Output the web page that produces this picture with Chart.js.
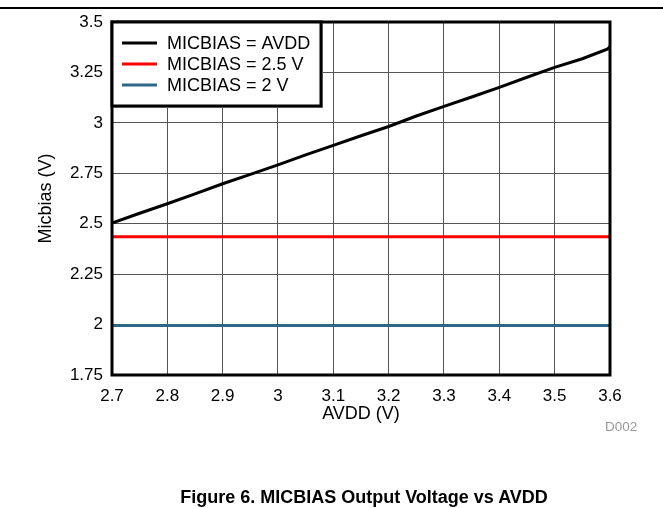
<!DOCTYPE html>
<html>
<head>
<meta charset="utf-8">
<script src="https://cdn.jsdelivr.net/npm/chart.js@4.4.1/dist/chart.umd.min.js"></script>
<style>
  body { margin: 0; background: #fff; font-family: "Liberation Sans", Arial, sans-serif; }
  #wrap { position: relative; width: 663px; height: 508px; }
  #chart { position: absolute; left: 0; top: 0; }
  #rule { position: absolute; left: 0; top: 7px; width: 663px; height: 2px; background: #000; }
  #code { position: absolute; left: 605px; top: 419px; font-size: 13.5px; color: #999; }
  #caption { position: absolute; left: 364px; top: 488px; transform: translateX(-50%);
             font-size: 18px; line-height: 18px; font-weight: bold; white-space: nowrap; }
</style>
</head>
<body>
<div id="wrap">
  <div id="rule"></div>
  <canvas id="chart" width="663" height="508"></canvas>
  <div id="code">D002</div>
  <div id="caption">Figure 6. MICBIAS Output Voltage vs AVDD</div>
</div>
<script>
// data
const avdd = [2.70, 2.75, 2.80, 2.85, 2.90, 2.95, 3.00, 3.05, 3.10, 3.15,
              3.20, 3.25, 3.30, 3.35, 3.40, 3.45, 3.50, 3.55, 3.595, 3.60];
const micbiasAvdd = [2.503, 2.552, 2.599, 2.648, 2.698, 2.745, 2.792, 2.841, 2.888, 2.936,
                     2.982, 3.034, 3.082, 3.128, 3.176, 3.226, 3.275, 3.318, 3.365, 3.378];
const avddEnds = [2.7, 3.6];
const micbias25 = [2.435, 2.435];
const micbias2 = [1.995, 1.995];

const seriesLabels = ['MICBIAS = AVDD', 'MICBIAS = 2.5 V', 'MICBIAS = 2 V'];
const seriesColors = ['#000000', '#ff0000', '#2f6886'];

const xTicks = [2.7, 2.8, 2.9, 3.0, 3.1, 3.2, 3.3, 3.4, 3.5, 3.6];
const xTickLabels = ['2.7', '2.8', '2.9', '3', '3.1', '3.2', '3.3', '3.4', '3.5', '3.6'];
const yTicks = [1.75, 2, 2.25, 2.5, 2.75, 3, 3.25, 3.5];
const yTickLabels = ['1.75', '2', '2.25', '2.5', '2.75', '3', '3.25', '3.5'];

const FONT = '"Liberation Sans", Arial, sans-serif';

function toPoints(xs, ys) {
  return xs.map((x, i) => ({ x: x, y: ys[i] }));
}

// frame + legend box drawn inside the plot
const frameAndLegend = {
  id: 'frameAndLegend',
  afterDatasetsDraw(chart) {
    const { ctx, chartArea: a } = chart;
    ctx.save();
    ctx.strokeStyle = '#000';
    ctx.lineWidth = 3;
    ctx.strokeRect(a.left, a.top, a.right - a.left, a.bottom - a.top);

    const x0 = a.left, y0 = a.top, w = 209, h = 84;
    ctx.fillStyle = '#aaa';
    ctx.fillRect(x0 + w, y0 + 2, 2, h);
    ctx.fillRect(x0 + 2, y0 + h, w, 2);
    ctx.fillStyle = '#fff';
    ctx.fillRect(x0, y0, w, h);
    ctx.strokeRect(x0, y0, w, h);

    ctx.font = '18px ' + FONT;
    ctx.textBaseline = 'middle';
    chart.data.datasets.forEach((ds, i) => {
      const y = y0 + 21 + i * 21;
      ctx.strokeStyle = ds.borderColor;
      ctx.lineWidth = 3;
      ctx.beginPath();
      ctx.moveTo(x0 + 10, y);
      ctx.lineTo(x0 + 45, y);
      ctx.stroke();
      ctx.fillStyle = '#000';
      ctx.fillText(ds.label, x0 + 55, y + 1);
    });
    ctx.restore();
  }
};

const ctx = document.getElementById('chart').getContext('2d');
new Chart(ctx, {
  type: 'line',
  data: {
    datasets: [
      { label: seriesLabels[0], data: toPoints(avdd, micbiasAvdd), borderColor: seriesColors[0] },
      { label: seriesLabels[1], data: toPoints(avddEnds, micbias25), borderColor: seriesColors[1] },
      { label: seriesLabels[2], data: toPoints(avddEnds, micbias2), borderColor: seriesColors[2] }
    ]
  },
  options: {
    responsive: false,
    animation: false,
    layout: { padding: { top: 22, right: 53, bottom: 83, left: 0 } },
    elements: {
      line: { borderWidth: 3, tension: 0, fill: false },
      point: { radius: 0 }
    },
    plugins: {
      legend: { display: false },
      tooltip: { enabled: false }
    },
    scales: {
      x: {
        type: 'linear',
        min: 2.7,
        max: 3.6,
        afterFit: s => { s.height = 50; },
        afterBuildTicks: s => { s.ticks = xTicks.map(v => ({ value: v })); },
        grid: { color: '#555', lineWidth: 1, drawTicks: false },
        border: { display: false },
        ticks: {
          padding: 11,
          color: '#000',
          font: { family: FONT, size: 17 },
          maxRotation: 0,
          callback: (v, i) => xTickLabels[i]
        },
        title: {
          display: true,
          text: 'AVDD (V)',
          color: '#000',
          font: { family: FONT, size: 18 },
          padding: { top: 0, bottom: 0 }
        }
      },
      y: {
        type: 'linear',
        min: 1.75,
        max: 3.5,
        afterFit: s => { s.width = 112; },
        afterBuildTicks: s => { s.ticks = yTicks.map(v => ({ value: v })); },
        grid: { color: '#555', lineWidth: 1, drawTicks: false },
        border: { display: false },
        ticks: {
          padding: 9,
          color: '#000',
          font: { family: FONT, size: 17 },
          callback: (v, i) => yTickLabels[i]
        },
        title: {
          display: true,
          text: 'Micbias (V)',
          color: '#000',
          font: { family: FONT, size: 18 },
          padding: { top: 35, bottom: 0 }
        }
      }
    }
  },
  plugins: [frameAndLegend]
});
</script>
</body>
</html>
